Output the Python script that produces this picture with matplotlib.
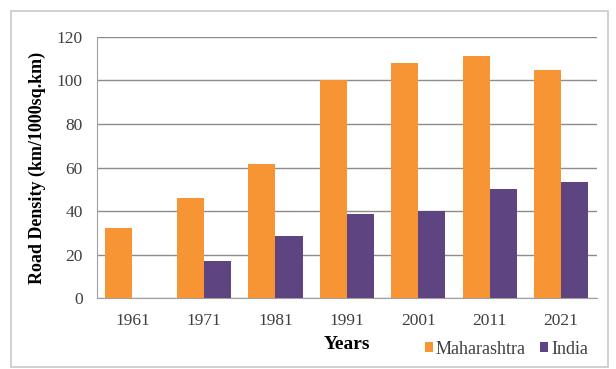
import numpy as np
import matplotlib.pyplot as plt
from matplotlib.patches import Rectangle
from matplotlib import font_manager

years = ['1961', '1971', '1981', '1991', '2001', '2011', '2021']
maharashtra = [32, 46, 61.5, 100, 108, 111, 105]
india = [np.nan, 17, 28.5, 38.5, 40, 50, 53.5]

plt.rcParams['font.family'] = ['Liberation Serif', 'DejaVu Serif']

fig = plt.figure(figsize=(6.16, 3.69), dpi=100)
ax = fig.add_axes([0.157, 0.192, 0.812, 0.708])

# light grey frame round the whole chart
fig.patches.append(Rectangle((11 / 616, 2 / 369), 597 / 616, 356 / 369,
                             transform=fig.transFigure, fill=False,
                             edgecolor='#c8c8c8', linewidth=1.2))

x = np.arange(len(years))
w = 0.38
ax.bar(x - w / 2, maharashtra, w, color='#f79433', label='Maharashtra', zorder=3)
ax.bar(x + w / 2, india, w, color='#5e4582', label='India', zorder=3)

ax.set_xlim(-0.5, len(years) - 0.5)
ax.set_ylim(0, 120)
ax.set_yticks(range(0, 121, 20))
ax.set_xticks(x)
ax.set_xticklabels(years)
ax.yaxis.grid(True, color='#8c8c8c', linewidth=1.0, zorder=0)
ax.tick_params(axis='both', length=0, labelsize=12.5, colors='#404040')
ax.tick_params(axis='x', pad=11)
ax.tick_params(axis='y', pad=10)
for side in ['top', 'right']:
    ax.spines[side].set_visible(False)
ax.spines['left'].set_color('#a0a0a0')
ax.spines['bottom'].set_color('#a0a0a0')

ax.set_ylabel('Road Density (km/1000sq.km)', fontsize=13, fontweight='bold', labelpad=8)
ax.set_xlabel('Years', fontsize=14, fontweight='bold', labelpad=5)

# legend font taken straight from the serif font file
serif_file = font_manager.findfont(font_manager.FontProperties(family='Liberation Serif'))
leg_font = font_manager.FontProperties(fname=serif_file, size=13)
leg = ax.legend(loc='center right', bbox_to_anchor=(1.0, -0.195), ncol=2, frameon=False,
                prop=leg_font, handlelength=0.45, handleheight=0.45, handletextpad=0.15,
                columnspacing=0.8, borderpad=0)
for t in leg.get_texts():
    t.set_color('#404040')

fig.savefig('out.png', dpi=100)
